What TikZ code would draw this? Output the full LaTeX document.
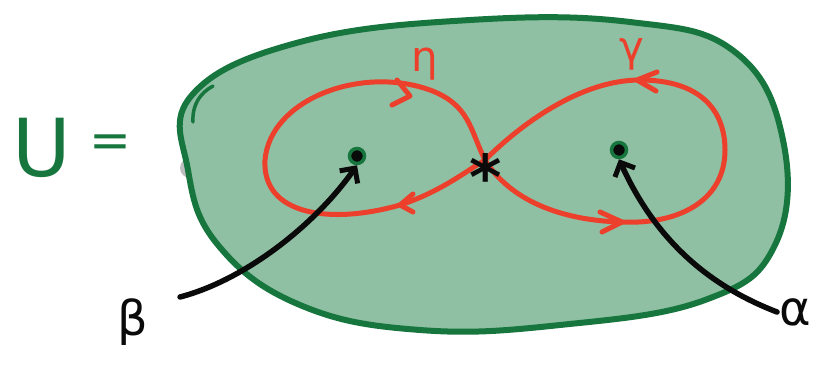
\documentclass[tikz,border=0pt]{standalone}
\usepackage{fontspec}
\newfontfamily\hand{DejaVu Sans}
\usetikzlibrary{arrows.meta}
\definecolor{blobfill}{RGB}{143,192,163}
\definecolor{blobline}{RGB}{22,118,62}
\definecolor{loopred}{RGB}{236,64,44}
\definecolor{ink}{RGB}{10,10,10}
\tikzset{
  loopline/.style={draw=loopred, line width=5pt, line cap=round, line join=round},
  arrowline/.style={draw=ink, line width=5.5pt, line cap=round,
     -{Straight Barb[length=11pt,width=22pt,line width=5pt]}},
  pointmark/.style={circle, draw=blobline, line width=3.5pt, fill=ink, inner sep=0pt, minimum size=15pt},
  redlabel/.style={text=loopred, font=\hand\fontsize{42}{42}\selectfont},
  blacklabel/.style={text=ink, font=\hand\fontsize{48}{48}\selectfont},
  greenlabel/.style={text=blobline, font=\hand\fontsize{80}{80}\selectfont},
  redtip/.style={draw=loopred, line width=5pt, line cap=round, line join=round}
}
\begin{document}
\begin{tikzpicture}[x=1pt,y=-1pt]
\useasboundingbox (0,0) rectangle (817,375);
% faint artefacts
\fill[black!25] (190,168) circle (10);
% blob
\draw[fill=blobfill, draw=blobline, line width=6pt]
  plot[smooth cycle, tension=0.7] coordinates {(192,95) (300,42) (470,20) (630,22) (735,52) (783,140) (775,245) (705,300) (560,325) (420,330) (300,305) (218,245) (188,170)};
\draw[blobline, line width=3.5pt, line cap=round] (193,122) .. controls (192,105) and (200,93) .. (213,86);
% loops
\coordinate (star) at (485,160);
\draw[loopline] (star) .. controls (470,130) and (470,105) .. (430,90)
  .. controls (360,65) and (270,100) .. (265,160)
  .. controls (262,215) and (330,225) .. (400,205)
  .. controls (440,192) and (465,172) .. (star);
\draw[loopline] (star) .. controls (520,125) and (580,80) .. (640,80)
  .. controls (700,80) and (725,110) .. (725,150)
  .. controls (725,200) and (680,225) .. (620,222)
  .. controls (560,220) and (510,200) .. (star);
% loop arrow tips
\draw[redtip] (397,80) -- (410,96) -- (392,105);
\draw[redtip] (413,194) -- (400,205) -- (413,212);
\draw[redtip] (657,72) -- (637,80) -- (656,91);
\draw[redtip] (600,212) -- (622,222) -- (602,232);
% base point
\node[text=ink, font=\hand\bfseries\fontsize{62}{62}\selectfont] (bp) at (486,176) {*};
% marked points
\node[pointmark] (b) at (357,156) {};
\node[pointmark] (a) at (619,150) {};
% labels
\node[redlabel] (eta) at (425,64) {η};
\node[redlabel] (gam) at (632,54) {γ};
\node[blacklabel] (beta) at (133,322) {β};
\node[blacklabel] (alpha) at (795,312) {α};
\node[greenlabel] (U) at (42,148) {U};
\node[greenlabel, font=\hand\fontsize{50}{50}\selectfont] (eq) at (110,146) {=};
% arrows
\coordinate (bs) at (180,297);
\coordinate (as) at (777,312);
\draw[arrowline] (bs) .. controls (245,280) and (315,225) .. (b.south);
\draw[arrowline] (as) .. controls (720,290) and (660,250) .. (a.south);
\end{tikzpicture}
\end{document}
